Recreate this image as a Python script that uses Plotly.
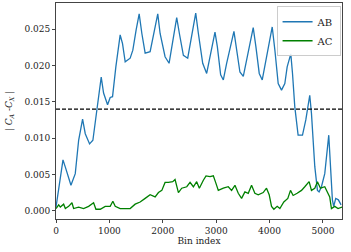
import plotly.graph_objects as go

ab_x = [0, 131, 175, 280, 361, 424, 498, 548, 629, 691, 766, 810, 847, 891, 966, 1015, 1059, 1121,
        1202, 1246, 1296, 1389, 1439, 1501, 1558, 1608, 1670, 1763, 1838, 1906, 1950, 2043, 2118,
        2180, 2261, 2311, 2386, 2467, 2542, 2617, 2667, 2748, 2822, 2897, 2978, 3022, 3084, 3134,
        3196, 3333, 3383, 3445, 3508, 3570, 3694, 3744, 3807, 3863, 3931, 4050, 4100, 4162, 4224,
        4286, 4330, 4398, 4430, 4473, 4535, 4617, 4679, 4753, 4785, 4847, 4897, 4928, 4972, 5034,
        5109, 5140, 5177, 5202, 5240, 5289, 5340]
ab_y = [0.0005, 0.0070, 0.0060, 0.0035, 0.0051, 0.0097, 0.0126, 0.0106, 0.0092, 0.0097, 0.0139,
        0.0164, 0.0184, 0.0162, 0.0146, 0.0156, 0.0157, 0.0198, 0.0242, 0.0230, 0.0205, 0.0210,
        0.0221, 0.0249, 0.0271, 0.0244, 0.0217, 0.0219, 0.0244, 0.0271, 0.0244, 0.0212, 0.0203,
        0.0230, 0.0266, 0.0244, 0.0214, 0.0210, 0.0240, 0.0272, 0.0244, 0.0203, 0.0189, 0.0217,
        0.0246, 0.0226, 0.0187, 0.0180, 0.0203, 0.0247, 0.0221, 0.0191, 0.0185, 0.0207, 0.0252,
        0.0226, 0.0189, 0.0180, 0.0207, 0.0253, 0.0221, 0.0175, 0.0166, 0.0175, 0.0198, 0.0216,
        0.0189, 0.0143, 0.0104, 0.0104, 0.0125, 0.0159, 0.0134, 0.0061, 0.0028, 0.0026, 0.0033,
        0.0051, 0.0104, 0.0070, 0.0015, 0.0006, 0.0017, 0.0015, 0.0008]

ac_x = [0, 50, 81, 143, 175, 237, 299, 330, 424, 517, 611, 704, 748, 829, 922, 1015, 1065, 1109,
        1202, 1296, 1389, 1483, 1576, 1670, 1763, 1857, 1919, 1982, 2043, 2106, 2186, 2230, 2261,
        2293, 2355, 2449, 2511, 2573, 2635, 2685, 2760, 2810, 2885, 2947, 2990, 3040, 3134, 3227,
        3289, 3352, 3414, 3476, 3538, 3601, 3663, 3725, 3788, 3881, 3943, 3993, 4037, 4081, 4143,
        4193, 4267, 4342, 4392, 4442, 4517, 4598, 4660, 4741, 4785, 4847, 4897, 4953, 5034, 5065,
        5127, 5159, 5221, 5283, 5357]
ac_y = [0.0003, 0.0008, 0.0005, 0.0009, 0.0003, 0.0006, 0.0011, 0.0003, 0.0005, 0.0003, 0.0006,
        0.0011, 0.0002, 0.0002, 0.0006, 0.0006, 0.0013, 0.0006, 0.0003, 0.0003, 0.0003, 0.0009,
        0.0012, 0.0017, 0.0022, 0.0019, 0.0025, 0.0028, 0.0039, 0.0039, 0.0040, 0.0043, 0.0035,
        0.0025, 0.0031, 0.0033, 0.0039, 0.0033, 0.0040, 0.0031, 0.0042, 0.0048, 0.0047, 0.0048,
        0.0039, 0.0028, 0.0031, 0.0033, 0.0028, 0.0035, 0.0024, 0.0017, 0.0026, 0.0024, 0.0035,
        0.0024, 0.0022, 0.0025, 0.0031, 0.0022, 0.0006, 0.0002, 0.0006, 0.0003, 0.0012, 0.0017,
        0.0028, 0.0021, 0.0024, 0.0028, 0.0033, 0.0040, 0.0028, 0.0031, 0.0040, 0.0031, 0.0033,
        0.0028, 0.0019, 0.0003, 0.0006, 0.0003, 0.0005]

threshold = 0.014
x_ticks = [0, 1000, 2000, 3000, 4000, 5000]
y_ticks = [0.000, 0.005, 0.010, 0.015, 0.020, 0.025]

FONT = "DejaVu Serif"

fig = go.Figure()
fig.add_trace(go.Scatter(x=ab_x, y=ab_y, mode="lines", name="AB",
                         line=dict(color="#1f77b4", width=1.3)))
fig.add_trace(go.Scatter(x=ac_x, y=ac_y, mode="lines", name="AC",
                         line=dict(color="#008000", width=1.3)))
fig.add_shape(type="line", xref="paper", x0=0, x1=1, yref="y", y0=threshold, y1=threshold,
              line=dict(color="black", width=1.2, dash="4px,2px"))

axis_common = dict(showgrid=False, zeroline=False, showline=True, linecolor="#444",
                   linewidth=1, mirror=True, ticks="outside", ticklen=3, tickcolor="#444",
                   automargin=False,
                   tickfont=dict(family=FONT, size=9, color="#222"))

fig.update_xaxes(range=[0, 5357], tickvals=x_ticks, ticktext=[str(v) for v in x_ticks],
                 title=dict(text="Bin index", font=dict(family=FONT, size=9, color="#222"),
                            standoff=1),
                 **axis_common)
fig.update_yaxes(range=[-0.00114, 0.0286], tickvals=y_ticks,
                 ticktext=[f"{v:.3f}" for v in y_ticks],
                 title=dict(text="| <i>C<sub>A</sub></i> -<i>C<sub>X</sub></i> |",
                            font=dict(family=FONT, size=9, color="#222"), standoff=10),
                 **axis_common)

fig.update_layout(
    width=351, height=252,
    margin=dict(l=56, r=9, t=3, b=33),
    paper_bgcolor="white", plot_bgcolor="white",
    font=dict(family=FONT, size=9, color="#222"),
    showlegend=True,
    legend=dict(x=0.995, y=0.985, xanchor="right", yanchor="top",
                bgcolor="rgba(255,255,255,0.85)", bordercolor="#ccc", borderwidth=1,
                font=dict(family=FONT, size=10, color="#222"),
                tracegroupgap=0, itemwidth=30),
)

fig.write_html("out.html", config={"displayModeBar": False},
               post_script="document.body.style.margin='0';")
